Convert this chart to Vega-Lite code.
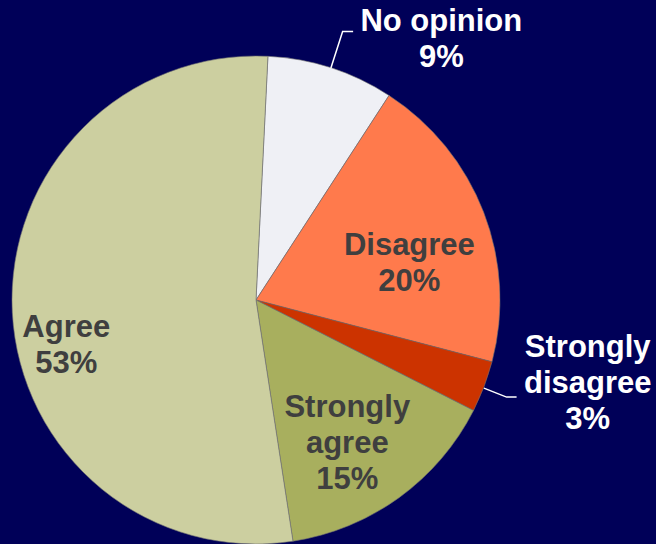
{
  "$schema": "https://vega.github.io/schema/vega-lite/v6.json",
  "width": 512,
  "height": 488,
  "autosize": {"type": "none"},
  "padding": {"left": 0, "top": 56, "right": 144, "bottom": 0},
  "background": "#000058",
  "config": {
    "view": {"stroke": null},
    "text": {"font": "Liberation Sans", "fontWeight": "bold", "fontSize": 31, "lineHeight": 36, "lineBreak": "\n", "align": "center", "baseline": "middle"}
  },
  "datasets": {
    "slices": [
      {"idx": 1, "category": "No opinion", "share": 8.4, "label": "No opinion\n9%"},
      {"idx": 2, "category": "Disagree", "share": 19.9, "label": "Disagree\n20%"},
      {"idx": 3, "category": "Strongly disagree", "share": 3.4, "label": "Strongly\ndisagree\n3%"},
      {"idx": 4, "category": "Strongly agree", "share": 15.1, "label": "Strongly\nagree\n15%"},
      {"idx": 5, "category": "Agree", "share": 53.2, "label": "Agree\n53%"}
    ],
    "leaders": [
      {"leader": "a", "pt": 1, "x": 0.307, "y": 0.951},
      {"leader": "a", "pt": 2, "x": 0.355, "y": 1.100},
      {"leader": "a", "pt": 3, "x": 0.398, "y": 1.100},
      {"leader": "b", "pt": 1, "x": 0.934, "y": -0.361},
      {"leader": "b", "pt": 2, "x": 1.027, "y": -0.398},
      {"leader": "b", "pt": 3, "x": 1.068, "y": -0.398}
    ]
  },
  "layer": [
    {
      "data": {"name": "slices"},
      "mark": {"type": "arc", "stroke": "#707070", "strokeWidth": 0.6},
      "encoding": {
        "theta": {"field": "share", "type": "quantitative", "stack": true, "scale": {"range": [0.0489, 6.3321]}},
        "order": {"field": "idx", "type": "quantitative"},
        "color": {
          "field": "category", "type": "nominal", "legend": null,
          "scale": {
            "domain": ["No opinion", "Disagree", "Strongly disagree", "Strongly agree", "Agree"],
            "range": ["#EFF0F5", "#FF7A4C", "#CC3300", "#A8AF5E", "#CCCFA0"]
          }
        }
      }
    },
    {
      "data": {"name": "slices"},
      "mark": {"type": "text", "radius": 300, "dx": 93, "dy": 7, "color": "#FFFFFF"},
      "encoding": {
        "theta": {"field": "share", "type": "quantitative", "stack": true},
        "order": {"field": "idx", "type": "quantitative"},
        "text": {"condition": {"test": "datum.idx === 1", "field": "label"}, "value": ""}
      }
    },
    {
      "data": {"name": "slices"},
      "mark": {"type": "text", "radius": 158, "dx": 6, "dy": 3, "color": "#3F3F3F"},
      "encoding": {
        "theta": {"field": "share", "type": "quantitative", "stack": true},
        "order": {"field": "idx", "type": "quantitative"},
        "text": {"condition": {"test": "datum.idx === 2", "field": "label"}, "value": ""}
      }
    },
    {
      "data": {"name": "slices"},
      "mark": {"type": "text", "radius": 342, "dx": 12, "dy": -73, "color": "#FFFFFF"},
      "encoding": {
        "theta": {"field": "share", "type": "quantitative", "stack": true},
        "order": {"field": "idx", "type": "quantitative"},
        "text": {"condition": {"test": "datum.idx === 3", "field": "label"}, "value": ""}
      }
    },
    {
      "data": {"name": "slices"},
      "mark": {"type": "text", "radius": 171, "dx": -9, "dy": -31, "color": "#3F3F3F"},
      "encoding": {
        "theta": {"field": "share", "type": "quantitative", "stack": true},
        "order": {"field": "idx", "type": "quantitative"},
        "text": {"condition": {"test": "datum.idx === 4", "field": "label"}, "value": ""}
      }
    },
    {
      "data": {"name": "slices"},
      "mark": {"type": "text", "radius": 195, "dx": 5, "dy": 18, "color": "#3F3F3F"},
      "encoding": {
        "theta": {"field": "share", "type": "quantitative", "stack": true},
        "order": {"field": "idx", "type": "quantitative"},
        "text": {"condition": {"test": "datum.idx === 5", "field": "label"}, "value": ""}
      }
    },
    {
      "data": {"name": "leaders"},
      "mark": {"type": "line", "color": "#FFFFFF", "strokeWidth": 1.5},
      "encoding": {
        "x": {"field": "x", "type": "quantitative", "axis": null, "scale": {"domain": [-1.04918, 1.04918], "nice": false, "zero": false}},
        "y": {"field": "y", "type": "quantitative", "axis": null, "scale": {"domain": [-1, 1], "nice": false, "zero": false}},
        "detail": {"field": "leader", "type": "nominal"},
        "order": {"field": "pt", "type": "quantitative"}
      }
    }
  ]
}
